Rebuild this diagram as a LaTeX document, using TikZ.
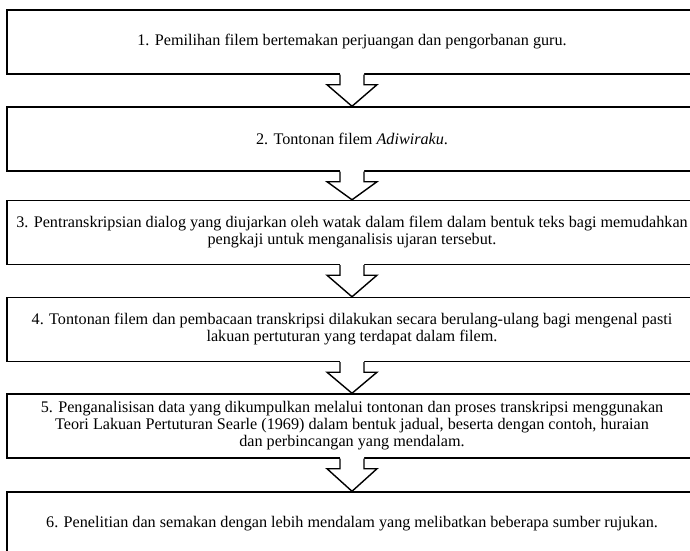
\documentclass[tikz,border=0pt]{standalone}
\usepackage{fontspec}
\setmainfont{Liberation Serif}
\usetikzlibrary{calc}
\tikzset{
  stepbox/.style={draw,line width=1pt,minimum width=17.25cm,minimum height=1.6cm,
    inner sep=0pt,align=center,font=\fontsize{11.5}{12.1}\selectfont},
  blockarrow/.style={line width=1pt,line join=miter}
}
\begin{document}
\begin{tikzpicture}[x=0.025cm,y=-0.025cm]
    \useasboundingbox (0,0) rectangle (690,551);
    \clip (0,0) rectangle (690,551);
    \node[stepbox] (s1) at (352,42) {1. Pemilihan filem bertemakan perjuangan dan pengorbanan guru.};
    \node[stepbox] (s2) at (352,139) {2. Tontonan filem \textit{Adiwiraku}.};
    \node[stepbox] (s3) at (352,232.5) {3. Pentranskripsian dialog yang diujarkan oleh watak dalam filem dalam bentuk teks bagi memudahkan\\
      pengkaji untuk menganalisis ujaran tersebut.};
    \node[stepbox] (s4) at (352,329.5) {4. Tontonan filem dan pembacaan transkripsi dilakukan secara berulang-ulang bagi mengenal pasti\\
      lakuan pertuturan yang terdapat dalam filem.};
    \node[stepbox] (s5) at (352,426) {5. Penganalisisan data yang dikumpulkan melalui tontonan dan proses transkripsi menggunakan\\
      Teori Lakuan Pertuturan Searle (1969) dalam bentuk jadual, beserta dengan contoh, huraian\\
      dan perbincangan yang mendalam.};
    \node[stepbox] (s6) at (352,524) {6. Penelitian dan semakan dengan lebih mendalam yang melibatkan beberapa sumber rujukan.};
    % hollow arrows between the steps
    \foreach \a/\b in {s1/s2,s2/s3,s3/s4,s4/s5,s5/s6} {
      \fill[white] ($(\a.south)+(-12,-2)$) -- ++(0,12) -- ++(-13,0) -- (\b.north)
        -- ($(\a.south)+(25,10)$) -- ++(-13,0) -- ++(0,-12) -- cycle;
      \draw[blockarrow] ($(\a.south)+(-12,0)$) -- ++(0,10) -- ++(-13,0) -- (\b.north)
        -- ($(\a.south)+(25,10)$) -- ++(-13,0) -- ++(0,-10);
    }
\end{tikzpicture}
\end{document}
